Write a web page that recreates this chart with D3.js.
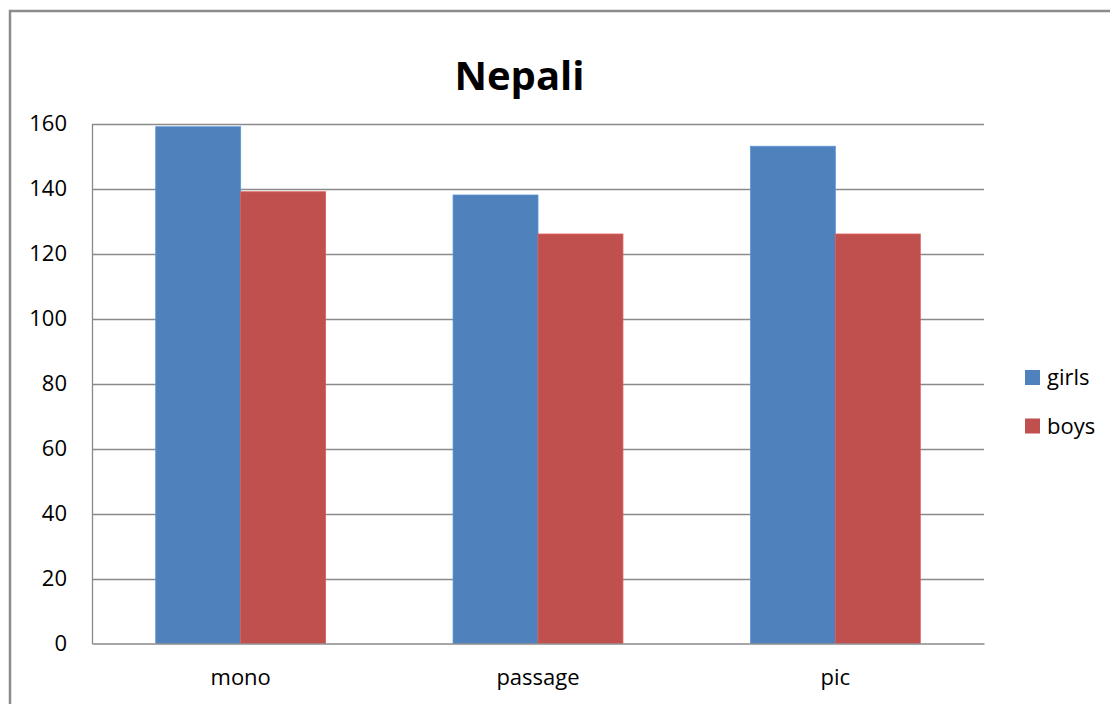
<!DOCTYPE html>
<html>
<head>
<meta charset="utf-8">
<script src="https://cdn.jsdelivr.net/npm/d3@7"></script>
<style>
  html, body { margin: 0; padding: 0; background: #fff; }
  svg { display: block; }
</style>
</head>
<body>
<svg id="chart" width="1110" height="704"></svg>
<script>
const categories = ["mono", "passage", "pic"];
const seriesNames = ["girls", "boys"];
const girls = [159, 138, 153];
const boys = [139, 126, 126];
const yTicks = [0, 20, 40, 60, 80, 100, 120, 140, 160];
const colors = ["#4F81BD", "#C0504D"];
const title = "Nepali";

const svg = d3.select("#chart");
const font = "'Open Sans', sans-serif";

// outer frame
svg.append("rect")
  .attr("x", 10).attr("y", 11).attr("width", 1130).attr("height", 720)
  .attr("fill", "#fff").attr("stroke", "#8c8c8c").attr("stroke-width", 2.5);

const plot = { left: 92, right: 984, top: 123.5, bottom: 643.5 };

const x0 = d3.scaleBand().domain(categories).range([plot.left, plot.right]).paddingInner(0).paddingOuter(0);
const y = d3.scaleLinear().domain([0, 160]).range([plot.bottom, plot.top]);
// gap width 150%: bar = band / (2 + 1.5)
const barW = x0.bandwidth() / 3.5;
const gap = x0.bandwidth() * 1.5 / 3.5 / 2;
const x1 = d3.scaleBand().domain(seriesNames).range([gap, gap + 2 * barW]).padding(0);

// gridlines
svg.append("g").selectAll("line").data(yTicks.filter(t => t > 0)).join("line")
  .attr("x1", plot.left).attr("x2", plot.right)
  .attr("y1", d => Math.round(y(d)) + 0.5).attr("y2", d => Math.round(y(d)) + 0.5)
  .attr("stroke", "#8a8a8a").attr("stroke-width", 1.3);

// y axis
const yAxis = d3.axisLeft(y).tickValues(yTicks).tickSize(0).tickPadding(25);
const gy = svg.append("g").attr("transform", `translate(${plot.left},0)`).call(yAxis);
gy.select(".domain").attr("stroke", "#8a8a8a").attr("stroke-width", 1.3);
gy.selectAll("text").attr("font-family", font).attr("font-size", 22).attr("fill", "#000");

// bars
const data = categories.map((c, i) => ({ cat: c, vals: [girls[i], boys[i]] }));
const groups = svg.append("g").selectAll("g").data(data).join("g")
  .attr("transform", d => `translate(${x0(d.cat)},0)`);
groups.selectAll("rect").data(d => d.vals.map((v, j) => ({ v, s: seriesNames[j], j }))).join("rect")
  .attr("x", d => x1(d.s)).attr("width", x1.bandwidth())
  .attr("y", d => y(d.v)).attr("height", d => y(0) - y(d.v))
  .attr("fill", d => colors[d.j])
  .attr("stroke", d => d3.color(colors[d.j]).brighter(0.4)).attr("stroke-width", 0.8);

// x axis
const xAxis = d3.axisBottom(x0).tickSize(0).tickPadding(26);
const gx = svg.append("g").attr("transform", `translate(0,${plot.bottom})`).call(xAxis);
gx.select(".domain").attr("stroke", "#8a8a8a").attr("stroke-width", 1.3);
gx.selectAll("text").attr("font-family", font).attr("font-size", 22).attr("fill", "#000");

// title
svg.append("text").attr("x", 519.5).attr("y", 89.5).attr("text-anchor", "middle")
  .attr("font-family", font).attr("font-weight", "bold").attr("font-size", 40).attr("fill", "#000")
  .text(title);

// legend
const legend = svg.append("g").selectAll("g").data(seriesNames).join("g")
  .attr("transform", (d, i) => `translate(1025,${370 + i * 48.5})`);
legend.append("rect").attr("width", 15).attr("height", 15).attr("fill", (d, i) => colors[i]);
legend.append("text").attr("x", 22).attr("y", 15).attr("font-family", font).attr("font-size", 22)
  .attr("fill", "#000").text(d => d);
</script>
</body>
</html>
